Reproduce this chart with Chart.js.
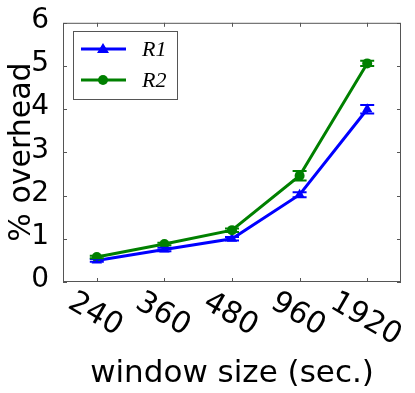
<!DOCTYPE html>
<html>
<head>
<meta charset="utf-8">
<script src="https://cdn.jsdelivr.net/npm/chart.js@4"></script>
<style>
  html, body { margin: 0; padding: 0; background: #fff; }
</style>
</head>
<body>
<canvas id="overheadChart" width="415" height="393"></canvas>
<script>
// window sizes (sec.) on the x axis
const windowSizes = ["240", "360", "480", "960", "1920"];
// % overhead
const r1Values = [0.5, 0.75, 1.0, 2.02, 4.0];
const r1Errors = [0.03, 0.04, 0.04, 0.06, 0.1];
const r2Values = [0.58, 0.88, 1.2, 2.46, 5.06];
const r2Errors = [0.03, 0.03, 0.04, 0.11, 0.06];
const yTicks = [0, 1, 2, 3, 4, 5, 6];

const FONT = "'DejaVu Sans', sans-serif";
const FRAME = "#555";

// matplotlib-like extras: error bars, box frame with inward ticks,
// rotated x labels, axis titles and the boxed legend
const mplLook = {
  id: "mplLook",
  afterDatasetsDraw(chart) {
    const { ctx, scales: { x, y } } = chart;
    chart.data.datasets.forEach(ds => {
      ctx.save();
      ctx.strokeStyle = ds.borderColor;
      ctx.lineWidth = 2;
      ds.data.forEach((v, i) => {
        const err = ds.errors[i];
        const px = x.getPixelForValue(i);
        const top = y.getPixelForValue(v + err);
        const bot = y.getPixelForValue(v - err);
        ctx.beginPath();
        ctx.moveTo(px, top); ctx.lineTo(px, bot);
        ctx.moveTo(px - 7, top); ctx.lineTo(px + 7, top);
        ctx.moveTo(px - 7, bot); ctx.lineTo(px + 7, bot);
        ctx.stroke();
      });
      ctx.restore();
    });
  },
  afterDraw(chart) {
    const { ctx, chartArea: a, scales: { x, y } } = chart;
    ctx.save();

    // frame
    ctx.strokeStyle = FRAME;
    ctx.lineWidth = 1;
    ctx.strokeRect(a.left + 0.5, a.top + 0.5, a.right - a.left - 1, a.bottom - a.top - 1);

    // inward ticks on all four sides
    ctx.beginPath();
    windowSizes.forEach((_, i) => {
      const px = Math.round(x.getPixelForValue(i)) + 0.5;
      ctx.moveTo(px, a.bottom); ctx.lineTo(px, a.bottom - 4);
      ctx.moveTo(px, a.top); ctx.lineTo(px, a.top + 4);
    });
    yTicks.forEach(t => {
      const py = Math.round(y.getPixelForValue(t)) + 0.5;
      ctx.moveTo(a.left, py); ctx.lineTo(a.left + 4, py);
      ctx.moveTo(a.right, py); ctx.lineTo(a.right - 4, py);
    });
    ctx.stroke();

    // x tick labels, rotated 30° clockwise, box top under the axis
    ctx.fillStyle = "#000";
    ctx.font = "30px " + FONT;
    const ang = Math.PI / 6;
    const glyphH = 22;
    windowSizes.forEach((lab, i) => {
      const w = ctx.measureText(lab).width;
      const bboxH = w * Math.sin(ang) + glyphH * Math.cos(ang);
      const cx = x.getPixelForValue(i);
      const cy = a.bottom + 6 + bboxH / 2;
      ctx.save();
      ctx.translate(cx, cy);
      ctx.rotate(ang);
      ctx.textAlign = "center";
      ctx.textBaseline = "alphabetic";
      ctx.fillText(lab, 0, glyphH / 2);
      ctx.restore();
    });

    // axis titles
    ctx.textAlign = "center";
    ctx.textBaseline = "alphabetic";
    ctx.font = "31px " + FONT;
    ctx.fillText("window size (sec.)", (a.left + a.right) / 2, 382);
    ctx.save();
    ctx.translate(30, 152);
    ctx.rotate(-Math.PI / 2);
    ctx.font = "30px " + FONT;
    ctx.fillText("% overhead", 0, 0);
    ctx.restore();

    // legend
    ctx.fillStyle = "#fff";
    ctx.fillRect(73.5, 31.5, 104, 68);
    ctx.strokeStyle = FRAME;
    ctx.strokeRect(73.5, 31.5, 104, 68);
    chart.data.datasets.forEach((ds, i) => {
      const ly = 49 + i * 31;
      ctx.strokeStyle = ds.borderColor;
      ctx.fillStyle = ds.borderColor;
      ctx.lineWidth = 3;
      ctx.beginPath();
      ctx.moveTo(81, ly); ctx.lineTo(126, ly);
      ctx.stroke();
      ctx.beginPath();
      if (ds.pointStyle === "triangle") {
        ctx.moveTo(103, ly - 6); ctx.lineTo(109, ly + 4); ctx.lineTo(97, ly + 4);
        ctx.closePath();
      } else {
        ctx.arc(103, ly, 5, 0, Math.PI * 2);
      }
      ctx.fill();
      ctx.fillStyle = "#000";
      ctx.font = "italic 22px 'Liberation Serif', serif";
      ctx.textAlign = "left";
      ctx.fillText(ds.label, 142, ly + 7);
    });

    ctx.restore();
  }
};

new Chart(document.getElementById("overheadChart"), {
  type: "line",
  data: {
    labels: windowSizes,
    datasets: [
      {
        label: "R1",
        data: r1Values,
        errors: r1Errors,
        borderColor: "#0000ff",
        backgroundColor: "#0000ff",
        borderWidth: 3,
        pointStyle: "triangle",
        pointRadius: 6,
        pointBorderWidth: 0,
        tension: 0,
        order: 2
      },
      {
        label: "R2",
        data: r2Values,
        errors: r2Errors,
        borderColor: "#008000",
        backgroundColor: "#008000",
        borderWidth: 3,
        pointStyle: "circle",
        pointRadius: 5,
        pointBorderWidth: 0,
        tension: 0,
        order: 1
      }
    ]
  },
  options: {
    responsive: false,
    animation: false,
    devicePixelRatio: 1,
    layout: { padding: { top: 21, right: 14, left: 0, bottom: 0 } },
    plugins: {
      legend: { display: false },
      tooltip: { enabled: false }
    },
    scales: {
      x: {
        type: "category",
        offset: true,
        grid: { display: false },
        border: { display: false },
        ticks: { display: false },
        afterFit: s => { s.height = 111; }
      },
      y: {
        min: yTicks[0],
        max: yTicks[yTicks.length - 1],
        grid: { display: false },
        border: { display: false },
        ticks: {
          stepSize: 1,
          color: "#000",
          padding: 6,
          labelOffset: -2,
          font: { family: "DejaVu Sans", size: 28 }
        },
        afterFit: s => { s.width = 63; }
      }
    }
  },
  plugins: [mplLook]
});
</script>
</body>
</html>
